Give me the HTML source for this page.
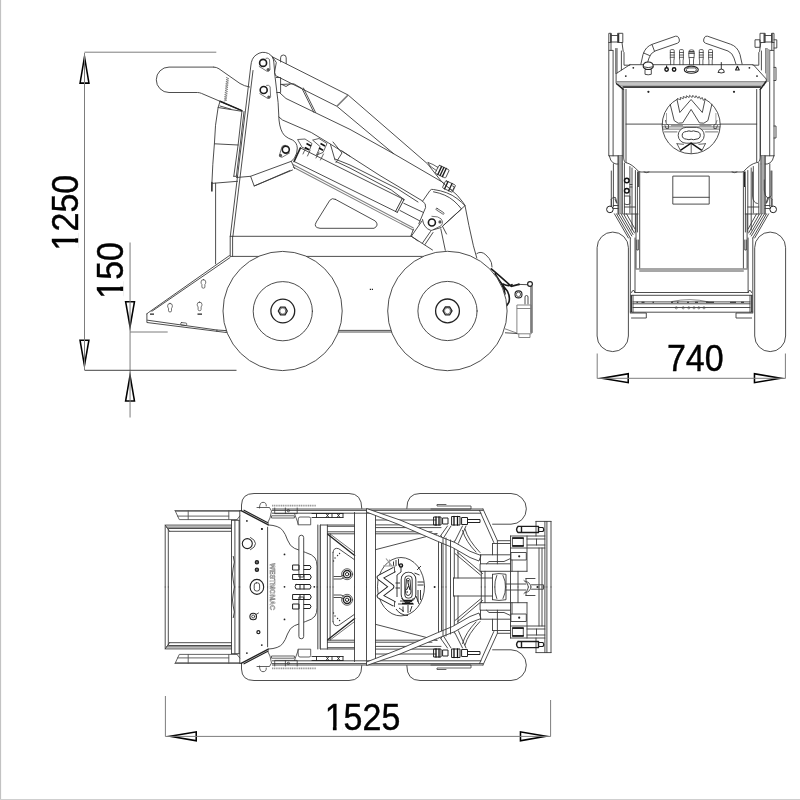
<!DOCTYPE html>
<html><head><meta charset="utf-8">
<style>
html,body{margin:0;padding:0;background:#fff;}
body{width:800px;height:800px;overflow:hidden;font-family:"Liberation Sans",sans-serif;}
svg{display:block}
.l{fill:none;stroke:#3a3a3a;stroke-width:0.9;stroke-linecap:round;stroke-linejoin:round}
.w{fill:#fff;stroke:#3a3a3a;stroke-width:0.9;stroke-linejoin:round}
.d{fill:none;stroke:#7d7d7d;stroke-width:1}
.a{fill:#fff;stroke:#000;stroke-width:1.1;stroke-linejoin:miter}
.t{font-family:"Liberation Sans",sans-serif;font-size:34px;fill:#000;stroke:#000;stroke-width:.4px}
</style></head><body>
<svg width="800" height="800" viewBox="0 0 800 800">
<rect width="800" height="800" fill="#fff"/>
<!--EDGE-->
<line x1="0.500" y1="0" x2="0.500" y2="800" stroke="#c2c2c2" stroke-width="1.200"/><line x1="0" y1="799.500" x2="800" y2="799.500" stroke="#cfcfcf" stroke-width="1"/>
<!--DIMS-->
<g id="dims" style="opacity:.999">
<polygon points="84.50,52.30 89.85,83.90 79.15,83.90" fill="#000"/><polygon points="84.50,61.59 88.02,82.35 80.98,82.35" fill="#fff"/>
<polygon points="84.45,370.00 79.10,339.40 89.80,339.40" fill="#000"/><polygon points="84.45,361.00 80.94,340.95 87.96,340.95" fill="#fff"/>
<polygon points="130.05,331.20 124.70,300.90 135.40,300.90" fill="#000"/><polygon points="130.05,322.29 126.55,302.45 133.55,302.45" fill="#fff"/>
<polygon points="130.05,371.00 135.40,401.80 124.70,401.80" fill="#000"/><polygon points="130.05,380.06 133.56,400.25 126.54,400.25" fill="#fff"/>
<polygon points="597.20,378.20 629.00,372.85 629.00,383.55" fill="#000"/><polygon points="606.54,378.20 627.45,374.68 627.45,381.72" fill="#fff"/>
<polygon points="785.30,378.20 753.70,383.55 753.70,372.85" fill="#000"/><polygon points="776.01,378.20 755.25,381.72 755.25,374.68" fill="#fff"/>
<polygon points="165.40,736.30 197.00,730.95 197.00,741.65" fill="#000"/><polygon points="174.69,736.30 195.45,732.78 195.45,739.82" fill="#fff"/>
<polygon points="550.60,736.30 519.70,741.65 519.70,730.95" fill="#000"/><polygon points="541.51,736.30 521.25,739.81 521.25,732.79" fill="#fff"/>
<path class="d" d="M84.5 52.2H216.3 M84.5 53V370 M130.05 242.5V417.500 M130 332H167.700 M597.2 353.500V378.500 M785.4 353.500V378.500 M597.2 378.300H785.400 M165.4 696V736.500 M550.600 700V736.500 M165.400 736.400H550.600"/>
<path d="M84.5 370.300H236.500" stroke="#444" stroke-width="1" fill="none"/>
<text class="t" transform="translate(77.8,250.4) rotate(-90) scale(1,1.065)">1250</text>
<text class="t" transform="translate(123,298.700) rotate(-90) scale(1,1.065)">150</text>
<text class="t" transform="translate(666.900,371.300) scale(1,1.065)">740</text>
<text class="t" transform="translate(324.700,730) scale(1,1.065)">1525</text>
<g fill="#fff"><rect x="326.2" y="726.5" width="6.700" height="4.500"/><rect x="336.600" y="726.500" width="6.200" height="4.500"/>
<rect x="74.500" y="231.800" width="4.200" height="6.500"/><rect x="74.500" y="242.600" width="4.200" height="5.800"/>
<rect x="119.500" y="280.300" width="4.200" height="6.400"/><rect x="119.500" y="290.900" width="4.200" height="6.300"/></g>
</g>
<!--SIDE-->
<g id="side">
<!-- handle -->
<path class="l" d="M213.8 67.1H169a12.7 12.7 0 0 0 0 25.4H197.5Q199.5 92.5 201.5 93.4L220 101.3L241.9 110.6"/>
<path class="l" d="M213.8 67.1Q216.5 67.1 219 68.8L240 83.5Q244 86 249.5 87"/>
<path class="l" d="M226.3 77.5l2.6 1.08l-2.6 1.08l2.6 1.08l-2.6 1.08l2.6 1.08l-2.6 1.08l2.6 1.08l-2.6 1.08l2.6 1.08l-2.6 1.08l2.6 1.08l-2.6 1.08l2.6 1.08l-2.6 1.08l2.6 1.08l-2.6 1.08l2.6 1.08l-2.6 1.08l2.6 1.08l-2.6 1.08l2.6 1.08l-2.6 1.08" transform="rotate(5.500 227.500 77.500)" style="stroke-width:.6;stroke:#555;stroke-linejoin:miter"/>
<path d="M220 101.300L241.900 110.600" stroke="#1c1c1c" stroke-width="1.500" fill="none" stroke-linecap="round"/>
<!-- control panel side -->
<path class="l" d="M220 101.5L218.1 107.5L241.9 111.3 M218.1 107.5Q214.8 125 214.4 143.8Q212.5 165 211.9 183.4L211.5 190.5 M214.4 143.8L238.1 145 M241.9 111.3L238.1 145L233.8 176.3 M244 111.5L240.2 145L236.4 176 M211.9 183.4L237.5 181.3 M233.8 176.3H237.5 M220 106L231 109.2"/>
<path class="l" d="M211.9 182.5V191" style="stroke-width:1.6"/>
<path class="l" d="M215.6 183.2V263.8"/>
<!-- tower -->
<path class="l" d="M230.3 236.3L250.8 66Q251.5 58 256 55Q262 50.5 268.5 53.5Q273.3 56 273.8 62L275 76.3L278.1 102.5L279 120Q280 130.5 284.5 135.5Q288 138.5 292.5 140Q297 142.5 297.3 148Q297.5 153 294.5 158L291.3 161.3L250.6 176.3"/>
<path class="l" d="M232.9 236.3L253 70.5"/>
<path class="l" d="M236.5 177.5L250.6 176.3L254.2 186L290 170.5 M253.1 185.6"/>
<!-- pivots -->
<g id="piv1"><path class="l" d="M259.2 66.5L267 71.3Q269.5 71.8 270 69.5L269.5 59.5Q268 57.5 266 58.2" style="stroke-width:.7"/><circle class="w" cx="263.1" cy="62.9" r="3.5" style="stroke-width:1.6;stroke:#1c1c1c"/><circle cx="268.2" cy="69.6" r="1.600" fill="#555"/></g>
<g id="piv2"><path class="l" d="M259.8 93.6L267.6 98.4Q270.1 98.9 270.6 96.6L270.1 86.6Q268.6 84.6 266.6 85.3" style="stroke-width:.7"/><circle class="w" cx="263.7" cy="90" r="3.5" style="stroke-width:1.6;stroke:#1c1c1c"/><circle cx="268.8" cy="97" r="1.600" fill="#555"/></g>
<g id="piv3"><path class="l" d="M289.5 153L282 157.3Q279.5 157.3 279.5 155L282 146.5Q283.5 145 285.5 145.3" style="stroke-width:.7"/><circle class="w" cx="285.8" cy="149.6" r="3.5" style="stroke-width:1.6;stroke:#1c1c1c"/><circle cx="280.5" cy="155.4" r="1.600" fill="#555"/></g>
<!-- body -->
<path class="l" d="M230.6 236.3H411.3 M230.2 236.3V256.3 M232.6 236.3V256.3 M230.6 256.4H425"/>
<path class="l" d="M146.9 313.8V322.5L226.3 332.5 M146.9 313.8L148.8 312.3L229.4 255.6 M151.9 311.3L230 257.6 M147.5 320.2L216.9 330L226 330.6 M216.9 330V331.4"/>
<path class="l" d="M226 330.4H392 M226 332H392"/>
<!-- keyholes -->
<g class="l" style="stroke-width:.7"><path id="kh" d="M203.4 279.6a2.4 2.4 0 0 1 2.4 2.4q0 1.6-.9 2.4v2.6q0 1.2-1.5 1.2t-1.5-1.2v-2.6q-.9-.8-.9-2.4a2.4 2.4 0 0 1 2.4-2.4Z"/><use href="#kh" x="-33.4" y="23.8"/><use href="#kh" x="-3.8" y="22.5"/><rect x="180.7" y="322.8" width="6" height="2.4" rx=".8" transform="rotate(7 183.7 324)"/></g>
<path d="M150 314.1h4 M197.5 314.1h4.5" stroke="#222" stroke-width="1.2" fill="none"/>
<!-- arms -->
<path class="l" d="M272.5 56.9L348.1 95L427.5 163.8L441.3 181.3Q446 186 450 188.8Q458 195 463.1 202.5L465 205.6"/>
<path class="l" d="M272.5 56.9L276.3 62.5L274.5 72.5L275.6 75.6L336.9 106.3L393.8 153.8"/>
<path d="M348.1 95L336.9 106.3" stroke="#777" stroke-width="1.6" fill="none"/>
<path class="l" d="M280.6 62V57.8a2.8 2.8 0 0 1 5.6 0V63.5"/>
<path class="l" d="M276.3 77.5H280.6V92.5H276.8 M280.6 84.5L293.8 83.8L302 88.5L313.8 112.3 M303.4 88L315.6 112.5 M282 84.5L286 86.5L290 84"/>
<path class="l" d="M279.4 92.5L286 98.5L350 129.4L393.8 153.8L441 181.3"/>
<path class="l" d="M278.8 116.9L282.5 120L311.3 132.5L328.8 143.1L350 156.3L380 175.6L421.9 200.6Q426.5 203.5 425.6 207.5L418.8 223.8"/>
<!-- hoses / cylinder -->
<path class="l" d="M300.4 147.9L294.1 161.5" style="stroke-width:1.6;stroke:#222"/>
<path class="l" d="M300.4 147.9L404 199.5 M294.1 161.5L397.3 212.3"/>
<path class="l" d="M404 199.5L397.3 212.3 M402.200 198.700L395.500 211.500" style="stroke-width:.9;stroke:#222"/>
<path class="l" d="M403.8 203.3L423.5 212.5 M400 210.5L420 221"/>
<path class="l" d="M335 159L350 165L397.5 188.8L418 202 M341.8 150.8L350 156.3 M336 161.5L350 168.1L391.3 190L404 199.5 M333 142L342 153L336 162.5 M330.5 144.5L335 160"/>
<!-- hose fittings near tower -->
<path class="l" d="M298 139.5L305 139L312 143.5L309.5 150L302.5 147.5Z M313 140L319 138.5L327 143.5L323 152.5L316.5 155L320 147Z M305.5 148.5L303 154 M310 150.5L307.5 156 M319 152L316 158 M323.5 154L320.5 160" style="stroke-width:.8"/>
<path d="M306.5 143.5L311 146 M305 147.5L309 149.7 M320.5 143.5L325 146 M319 148L323 150.2" stroke="#111" stroke-width="1.6" fill="none"/>
<!-- chassis bar -->
<path d="M293 164.600L413.500 228 M293 166.900L413.500 230.300" stroke="#808080" stroke-width="1.100" fill="none"/><path class="l" d="M413.500 229.100L410.900 235.900L418 241"/>
<path class="l" d="M291.3 161.3L294.5 168.5 M254.2 186L292.5 170"/>
<!-- triangle cutout -->
<path class="l" d="M335.3 199.3L375.300 221Q379.500 225.500 374 228.3H320Q313 227.5 316.3 222L329.8 200.3Q332 197.5 335.3 199.3Z"/>
<!-- front plate -->
<path class="l" d="M422.5 201.3L430 190.5Q431.3 188.8 433.5 189.5Q448 191.5 457 198.5Q462 202.5 465 205.6L442.5 226.3 M433.5 191.8Q446 194 454 201Q458.5 205 461.5 209L443.8 225"/>
<path class="l" d="M422.5 219.5Q423.5 228 431 230.5L441.2 227.5"/>
<rect class="l" x="435.300" y="210.400" width="9.400" height="1.700" rx=".85" transform="rotate(33 440 211.250)" style="stroke-width:.7"/>
<g id="piv4"><path class="l" d="M431.9 216.3L437.5 216.9Q442 218.500 442.500 221.300Q442.800 224 441 225.800L433.500 229.500" style="stroke-width:.7"/><circle class="w" cx="431.9" cy="222.5" r="3.5" style="stroke-width:1.6;stroke:#1c1c1c"/><circle cx="440" cy="221.9" r="1.600" fill="#555"/></g>
<path class="l" d="M465 205.6L468.9 225.5L473.4 245.8L476.8 258 M440.8 228.9L445.3 250.3 M442.5 226.3L446.5 234"/>
<path class="l" d="M411.3 236.3L422 221 M411.3 236.3L432.5 250 M422.5 243L430.5 231.5 M425 244.5L433 232.5"/>
<path class="l" d="M476.8 253.6Q481 250.5 485.8 254.8Q490 258.5 491.4 262.6L492 267"/>
<g class="l" style="stroke-width:.8"><path d="M428.100 162.500L430 166L436.300 170.500 M428.100 162.500L433 164.500L438 167.500"/>
<g transform="rotate(25 442 171.500)"><rect x="436.500" y="167" width="11.500" height="9" rx="1"/><path d="M439.500 167V176 M442 167V176 M444.500 167V176" style="stroke:#222;stroke-width:1.400"/></g>
<g transform="rotate(25 449 186.500)"><rect x="443.500" y="182.500" width="11" height="8" rx="1"/><path d="M446 182.500V190.500 M450.500 182.500V190.500" style="stroke:#222;stroke-width:1.300"/><path d="M452 184.500h2v4h-2"/></g>
<path d="M441.300 181.300L444 183.500"/></g>
<!-- quick attach -->
<path d="M491.3 268.8Q500 276 511.3 286.3L518.8 284.4 M495 274Q500 282 507.5 291.3Q510.5 297 508.8 302.5L506.8 305.5 M499.4 281.3Q504.5 287 505 294 M503 284Q509 287 512 284.5" stroke="#1a1a1a" stroke-width="1.6" fill="none" stroke-linecap="round"/>
<path class="l" d="M518.8 284.4L527.5 284.7 M530.9 286.5V332.5 M532.1 286.5V332.5 M525 304V297a1.5 1.5 0 0 1 3 0V304" />
<circle class="w" cx="530" cy="284" r="2.4" style="stroke-width:1.2;stroke:#222"/>
<circle cx="519" cy="284.4" r=".9" fill="#222"/>
<circle class="l" cx="518.5" cy="294.4" r="3.5" style="stroke-width:1.1;stroke:#222"/><circle class="l" cx="518.5" cy="294.4" r="2.2" style="stroke-width:.9;stroke:#555"/>
<path d="M516.9 305H531.3V333.8H516.9Z M516.9 308.5H531.3 M518.8 333.8V337.5H530V333.8 M505 328.8L516.9 333.1" stroke="#777" stroke-width=".9" fill="none"/>
<path class="l" d="M505.4 332.8L516.9 333.5"/>
<path d="M369.800 289.400h1.200 M371.800 289.400h1.200" stroke="#222" stroke-width="1.300" fill="none"/>
<!-- wheels -->
<g id="rw"><circle class="w" cx="282.6" cy="311" r="59.6"/><circle class="l" cx="282.8" cy="311.2" r="29.6"/><circle class="l" cx="282.8" cy="311" r="11.9" style="stroke-width:1.3;stroke:#222"/><path class="l" d="M287.3 311l-2.25 3.9h-4.5l-2.25-3.9l2.25-3.9h4.5Z" style="stroke-width:1.3;stroke:#222"/><circle class="l" cx="282.8" cy="311" r="3" style="stroke-width:.6"/></g>
<g id="fw"><circle class="w" cx="447.4" cy="311" r="59.7"/><circle class="l" cx="447.5" cy="311" r="29.6"/><circle class="l" cx="447.5" cy="310.9" r="11.9" style="stroke-width:1.3;stroke:#222"/><path class="l" d="M452 310.9l-2.25 3.9h-4.5l-2.25-3.9l2.25-3.9h4.5Z" style="stroke-width:1.3;stroke:#222"/><circle class="l" cx="447.5" cy="310.9" r="3" style="stroke-width:.6"/></g>
</g>
<!--FRONT-->
<g id="front">
<!-- tires -->
<rect class="w" x="597.1" y="232.1" width="31.3" height="119.5" rx="15.6" ry="15.6"/>
<rect class="w" x="754.7" y="232.1" width="30.9" height="119.5" rx="15.4" ry="15.6"/>
<!-- arms tops -->
<path class="l" d="M608.8 155.8V33.3H611.2V42.5H608.8 M618 33.3H622.8V42.5H618Z M611.2 35.5H618 M611.2 42H618 M611 42.5V50.4 M609.2 50.4H612.7 M622 42.5L623.2 51.3L624 52.5V65.2H629.8 M613.1 50.4V155.8 M615.8 48.5V73.5 M617 48.5V73 M621.4 51V70 M622.3 89V155.8"/>
<path class="l" d="M 774.0 155.8 V 33.3 H 771.6 V 42.5 H 774.0 M 764.8 33.3 H 760.0 V 42.5 H 764.8 Z M 771.6 35.5 H 764.8 M 771.6 42.0 H 764.8 M 771.8 42.5 V 50.4 M 773.6 50.4 H 770.1 M 760.8 42.5 L 759.6 51.3 L 758.8 52.5 V 65.2 H 753.0 M 769.7 50.4 V 155.8 M 767.0 48.5 V 73.5 M 765.8 48.5 V 73.0 M 761.4 51.0 V 70.0 M 760.5 89.0 V 155.8"/>
<path d="M618.6 33.5V42.3 M610.800 33.500V42.300" stroke="#333" stroke-width="1.300" fill="none"/>
<path d="M 764.2 33.5 V 42.3 M 772.0 33.5 V 42.3" stroke="#333" stroke-width="1.300" fill="none"/>
<path class="l" d="M755.4 39.800H760V47.300H755.400Z M774 39.800H776.800V48H774 M774 67.400H776V80.500H774 M774 126H776V138H774"/>
<path d="M767.700 49V82" stroke="#aaa" stroke-width="3.600" fill="none"/>
<!-- handles -->
<path class="l" d="M640.9 64L643 54.5Q645.5 46.5 652.5 44.2L675.5 36.2Q677.8 35.6 678.8 38L679.4 40Q679.8 42.3 677.5 43.2L655 51Q650.5 53 649 58L647.1 64 M652 44.5L654.5 51.2 M643.6 53L649.5 55.5"/>
<path class="l" d="M742.1 64L740 54.5Q737.5 46.5 730.5 44.2L707.5 36.2Q705.2 35.6 704.2 38L703.6 40Q703.2 42.3 705.5 43.2L728 51Q732.5 53 734 58L735.9 64"/>
<!-- panel -->
<path class="l" d="M629.9 64.7H753.3L766.3 79.1V81.2L760.1 89.4 M629.9 64.7L616.1 73.6V83.3L623.7 89.4 M617 81.9H766 M624 87.2H759.5"/>
<path d="M618 84.4H765" stroke="#c4c4c4" stroke-width="2.6" fill="none"/><path d="M620 85.800H763" stroke="#999" stroke-width="1" fill="none"/>
<path d="M622.5 86.900H761" stroke="#2a2a2a" stroke-width="1.500" fill="none"/>
<path d="M616.3 83.5L623.7 89.6 M766.1 81.5L760.1 89.6" stroke="#222" stroke-width="1.5" fill="none"/>
<!-- estop -->
<path class="w" d="M645 74.3V69.5H651.3V74.3Q648.2 75.3 645 74.3Z"/>
<path class="w" d="M643.2 66.2Q643.2 62 648.2 62T653.2 66.2Q653.2 69 648.2 69.5Q643.2 69 643.2 66.2Z" style="stroke:#222;stroke-width:1.1"/>
<path class="l" d="M643.4 66.8Q648.2 68.6 653 66.8"/>
<!-- toggles -->
<circle cx="666.6" cy="69.5" r="1.7" fill="#fff" stroke="#111" stroke-width="1.4"/><circle cx="674.1" cy="69.5" r="1.7" fill="#fff" stroke="#111" stroke-width="1.4"/>
<path d="M666.6 68V65.5" stroke="#111" stroke-width="1.1"/>
<!-- levers -->
<g class="l" style="stroke-width:.8">
<path id="lv" d="M670.6 64.7V59.5H670.3V50.5Q670.3 49.6 671.3 49.6H673.2Q674.2 49.6 674.2 50.5V59.5H673.9V64.7 M670.3 52.5H674.2 M670.3 55H674.2 M670.3 57.3H674.2"/>
<use href="#lv" x="9.2"/><use href="#lv" x="29" /><use href="#lv" x="38.3"/>
<path d="M689.5 64.7V60L688.8 56V51.5Q688.8 49.8 691.5 49.8T694.2 51.5V56L693.5 60V64.7 M688.8 53.5H694.2 M689.2 57.5L693.8 57.5"/>
</g>
<path d="M689 51.8H694" stroke="#222" stroke-width="1.3"/>
<ellipse class="l" cx="691.3" cy="69.7" rx="7" ry="3.6" style="stroke:#222;stroke-width:1.1"/><rect class="l" x="686.3" y="67.9" width="10" height="3.6" rx="1.6"/>
<path class="l" d="M718.3 72.3Q718.3 69 721.3 69T724.3 72.3Q721.3 73.8 718.3 72.3Z M721.3 69V62.5" style="stroke:#222"/>
<path class="l" d="M735.6 70L737.4 66.3L739.2 70Z" style="stroke:#222;stroke-width:1.2"/>
<g fill="#222"><circle cx="633.3" cy="67.8" r=".9"/><circle cx="625.8" cy="76.1" r=".9"/><circle cx="749.4" cy="67.8" r=".9"/><circle cx="757" cy="76.1" r=".9"/><circle cx="648.4" cy="91.8" r="1.1"/><circle cx="734" cy="91.8" r="1.1"/></g>
<!-- body -->
<path class="l" d="M623.7 89.4V158Q624 162.6 626 162.6 M626 89.4V162.6Q632 164 638.8 171.6L641 172H742L743.6 171.6Q750 164 756.7 162.6V89.4 M760.1 89.4V158Q759.8 162.6 757.4 162.6 M626 124.1H662.5 M720.5 124.1H756.7 M644 172Q646.5 173.5 649 172 M732 172Q734.5 173.5 737 172"/>
<rect class="l" x="673.2" y="176.1" width="36" height="28"/><path class="l" d="M673.2 197.3H709.2"/>
<!-- logo -->
<g id="logo">
<path class="l" d="M704.9 99.0 A29.1 29.1 0 1 1 677.5 99.0"/>
<path class="l" d="M677.4 98.7 L680.6 99.7 L680.3 97.4 L683.3 98.7 L683.3 96.4 L686.2 98.0 L686.4 95.7 L689.1 97.6 L689.6 95.3 L692.1 97.5 L692.8 95.3 L695.0 97.8 L696.0 95.7 L697.9 98.3 L699.1 96.4 L700.7 99.2 L702.1 97.4 L703.4 100.4 L705.0 98.7" style="stroke-width:.8"/>
<path class="l" d="M670.2 104.3 L674.2 120.6 Q678.1 124.6 682.6 122.9 L691.1 109.4 L699.5 122.9 Q704.0 124.6 707.9 120.6 L711.9 104.3 M705.1 99.5 L702.3 112.5 L691.1 99.5 L679.8 112.5 L677.0 99.5"/>
<path class="l" d="M662.3 124.6H720.1 M662.5 126.9H719.9 M663 129.1H719.4 M664.5 131.9H677 M705.5 131.9H717.9" style="stroke-width:.7"/>
<path d="M671 125.8H683 M699.5 125.8H711.5" stroke="#999" stroke-width="1.4" fill="none"/>
<rect class="w" x="678.2" y="127.4" width="26" height="15.8" rx="7.9" style="stroke-width:.9"/>
<path class="w" d="M686.5 131.5Q689 130.3 691.2 131.4Q693.5 130.3 696 131.5Q700.3 131.8 700.3 135.3T696 139.2Q693.5 140.2 691.2 139.2Q689 140.2 686.5 139.2Q682.2 138.8 682.2 135.3T686.5 131.5Z" style="stroke-width:1"/>
<path class="l" d="M677 143.7L680.4 150.4 M705.4 143.7L702 150.4 M677 143.7L683.5 144.3 M705.4 143.7L698.9 144.3 M691.2 143.3V153.3" style="stroke-width:.8"/>
<path d="M680.4 150.4L691.1 143.1L701.8 150.4" stroke="#111" stroke-width="1.3" fill="none" stroke-linejoin="miter"/>
<path class="l" d="M665.5 120.5l1 3.5l2 1v3.5h-2.5l-1-3 M716.9 120.5l-1 3.5l-2 1v3.5h2.500l1-3" style="stroke-width:.8"/>
<path d="M666.5 113V124 M715.9 113V124" stroke="#999" stroke-width=".9" fill="none"/>
</g>
<!-- lower structure -->
<path class="l" d="M609.3 155.8H622.3 M609.3 155.8L610.7 160L613 162.8L616 164H622 M611.3 171V206 M613.4 164V207 M618.2 156V214 M624.4 163V214 M629.9 166.5V213 M632 168V230 M635.4 170.5V232"/>
<path d="M620.3 156V214" stroke="#aaa" stroke-width="3.6" fill="none"/>
<path class="l" d="M618.2 156V214 M622.3 156V214"/>
<path d="M638 171.5V187" stroke="#222" stroke-width="1.600" fill="none"/><path class="l" d="M637.400 187V232"/>
<circle cx="626.8" cy="180.5" r="2.3" fill="#fff" stroke="#111" stroke-width="1.5"/><circle cx="626.8" cy="190.8" r="2.3" fill="#fff" stroke="#111" stroke-width="1.5"/>
<path class="l" d="M624.4 196H629.9V204Q627 205.5 624.4 204 M629.9 184.5H632 M629.9 187H632 M624.4 207H635.4 M624.4 214H638"/>
<circle class="w" cx="609.9" cy="209.4" r="3.3" style="stroke:#222;stroke-width:1"/>
<path class="l" d="M611 199.5Q613 196 615.5 197.5L617 203 M611.3 200V206 M613.2 208.5H618.2 M613.2 205.5H618.2 M615 199L616.5 203"/>
<path class="l" d="M773.9 155.8H760.8 M773.9 155.8L772.5 160L770.2 162.800L767.2 164H761.2 M771.9 171V206 M769.8 164V207 M765 156V214 M758.800 163V214 M753.3 166.5V213 M751.2 168V230 M747.8 170.5V232"/>
<path d="M762.900 156V214" stroke="#aaa" stroke-width="3.6" fill="none"/>
<path class="l" d="M765 156V214 M760.900 156V214"/>
<path d="M744.800 171.500V187" stroke="#222" stroke-width="1.600" fill="none"/><path class="l" d="M745.400 187V232"/>
<path class="l" d="M752.600 172V196Q753 203 757.4 203.500 M764.3 180V190Q764.3 196 768 198.500L771 196V171"/>
<circle class="w" cx="773.2" cy="209.4" r="3.3" style="stroke:#222;stroke-width:1"/>
<path class="l" d="M772.2 199.5Q770.2 196 767.7 197.5L766.2 203 M771.9 200V206 M770 208.5H765 M770 205.5H765 M768.2 199L766.7 203"/>
<path class="l" d="M758.800 207H747.8 M758.800 214H745.2"/>
<!-- diagonals to frame -->
<path class="l" d="M614.4 213.8L628.4 238 M616.500 213.8L630.300 238 M618.6 213.8L631.800 236 M621 213.800L633 234.500 M623.5 213.8L634.500 233 M626.500 213.800L635 229"/>
<path class="l" d="M768.7 213.8L754.700 238 M766.600 213.8L752.800 238 M764.500 213.8L751.300 236 M762.100 213.800L750.100 234.500 M759.600 213.800L748.600 233 M756.600 213.800L748.100 229"/>
<path class="l" d="M630.3 238V312 M635 238V292.500 M636 214V268 M639.700 172V268 M636.800 240V250H638.300V240"/>
<path class="l" d="M752.800 238V312 M748.100 238V292.500 M747.100 214V268 M743.400 172V268 M746.300 240V250H744.800V240"/>
<path class="l" d="M636 269H747.100 M639.700 271H743.400 M635 292.500H748.100 M631 295.300H752 M633 301.900H750 M633 303.800H750 M633 307.500H750 M630.300 312.200H752.800 M633 295.300V312.200 M750 295.300V312.200 M630.300 313H646.300V318H631.500 M752.800 313H736V318H751.600"/>
<path class="l" d="M631.500 292.500Q632 290 634 290.500L635 292.500 M751.600 292.500Q751.100 290 749.100 290.500L748.100 292.500"/>
<path d="M631.300 295.300V312 M751.800 295.300V312" stroke="#222" stroke-width="1.2" fill="none"/>
<g fill="none" stroke="#444" stroke-width=".6"><circle cx="676.3" cy="307.800" r="1.1"/><circle cx="683.200" cy="307.800" r="1.100"/><circle cx="688.800" cy="307.800" r="1.100"/><circle cx="694" cy="307.800" r="1.100"/><circle cx="698.800" cy="307.800" r="1.100"/><circle cx="704" cy="307.800" r="1.100"/></g>
<path d="M636.500 302.300h1.500 M641.500 302.300h3 M652.500 302.300h1.500 M671 302.300h2 M677 302.300h1.500 M687 302.300h2 M695 302.300h3 M706 302.300h8 M730 302.300h6 M741 302.300h3" stroke="#222" stroke-width="1.100" fill="none"/>
<path class="l" d="M672 301.500Q690 297.500 708 301.800" style="stroke-width:.6"/>
</g>
<!--TOP-->
<g id="top">
<path class="l" d="M241.5 510.6V505Q241.8 493.5 254 493.5H349Q361.8 493.5 361.8 508.4"/>
<path class="l" d="M 241.5 663.4 V 669.0 Q 241.8 680.5 254.0 680.5 H 349.0 Q 361.8 680.5 361.8 665.6"/>
<path class="l" d="M406.8 508.4Q406.8 493.5 420 493.5H511A15.35 15.35 0 0 1 511 524.2H492.6"/>
<path class="l" d="M 406.8 665.6 Q 406.8 680.5 420.0 680.5 H 511.0 A 15.3 15.3 -0 0 0 511.0 649.8 H 492.6"/>
<path class="l" style="stroke:#555" d="M175.1 510.6H241.1 M175.1 510.6L179.3 519.6H237 M177.5 516.1H228.8 M188.2 510.6V519.6 M228.8 510.6V519.6 M237 519.6L239.8 516"/>
<path class="l" style="stroke:#555" d="M 175.1 663.4 H 241.1 M 175.1 663.4 L 179.3 654.4 H 237.0 M 177.5 657.9 H 228.8 M 188.2 663.4 V 654.4 M 228.8 663.4 V 654.4 M 237.0 654.4 L 239.8 658.0"/>
<path class="l" style="stroke:#555;stroke-width:.9" d="M176 511.200H240"/>
<path class="l" style="stroke:#555;stroke-width:.9" d="M 176.0 662.8 H 240.0"/>
<path class="l" d="M231.5 525.1H165.2V587 M231.5 527.1H166.5 M231.5 528.5H168.3V587 M231.5 531.3H169.5 M165.2 525.1L169.5 531.3"/>
<path class="l" d="M 231.5 648.9 H 165.2 V 587.0 M 231.5 646.9 H 166.5 M 231.5 645.5 H 168.3 V 587.0 M 231.5 642.7 H 169.5 M 165.2 648.9 L 169.5 642.7"/>
<path class="l" d="M231.5 520.3V587 M234.9 520.3V587 M239.1 520.3V587 M231.5 520.3H239.1"/>
<path class="l" d="M 231.5 653.7 V 587.0 M 234.9 653.7 V 587.0 M 239.1 653.7 V 587.0 M 231.5 653.7 H 239.1"/>
<path class="l" d="M239.8 510.6V587 M267.6 527.2V587"/>
<path class="l" d="M 239.8 663.4 V 587.0 M 267.6 646.8 V 587.0"/>
<path class="l" style="stroke:#222;stroke-width:1.2" d="M241.1 510.6L268.3 524.9 M244 510.2L268.3 523"/>
<path class="l" style="stroke:#222;stroke-width:1.2" d="M 241.1 663.4 L 268.3 649.1 M 244.0 663.8 L 268.3 651.0"/>
<path class="l" d="M268.3 524.9Q279 525.5 282.7 530.4Q285.5 534 287.5 540Q290 546.5 294.4 548.3Q300 550.5 305.4 552.4Q312.5 554.5 315 557.9Q317 561 317 566.1V587"/>
<path class="l" d="M 268.3 649.1 Q 279.0 648.5 282.7 643.6 Q 285.5 640.0 287.5 634.0 Q 290.0 627.5 294.4 625.7 Q 300.0 623.5 305.4 621.6 Q 312.5 619.5 315.0 616.1 Q 317.0 613.0 317.0 607.9 V 587.0"/>
<path class="l" d="M272.4 509H483 M272.4 510.4H483 M272.4 513.2H481"/>
<path class="l" d="M 272.4 665.0 H 483.0 M 272.4 663.6 H 483.0 M 272.4 660.8 H 481.0"/>
<path style="fill:none;stroke:#999;stroke-width:1.800;stroke-dasharray:1.200 .6" d="M272 505.700H316"/>
<path style="fill:none;stroke:#999;stroke-width:1.800;stroke-dasharray:1.200 .6" d="M 272.0 668.3 H 316.0"/>
<path class="l" d="M483 509L497.4 540.7H510.5 M479.5 510.4L493.8 542.5 M497.4 540.7V563.8"/>
<path class="l" d="M 483.0 665.0 L 497.4 633.3 H 510.5 M 479.5 663.6 L 493.8 631.5 M 497.4 633.3 V 610.2"/>
<path class="l" style="stroke-width:.8" d="M259.500 508Q259.500 502.300 263 502.300T266.300 506 M257 507.500H269.500L271.500 511L270 518L268 522 M274.700 508V513.600H297.200V508 M285.400 508V513.600 M271.900 515.800H294.400V518H271.900Z M294.500 513.600L298.300 524 M298.300 518.500Q298.300 517 300 517H309Q310.700 517 310.700 518.500V524.800H298.300Z"/>
<path class="l" style="stroke-width:.8" d="M 259.5 666.0 Q 259.5 671.7 263.0 671.7 T 266.3 668.0 M 257.0 666.5 H 269.5 L 271.5 663.0 L 270.0 656.0 L 268.0 652.0 M 274.7 666.0 V 660.4 H 297.2 V 666.0 M 285.4 666.0 V 660.4 M 271.9 658.2 H 294.4 V 656.0 H 271.9 Z M 294.5 660.4 L 298.3 650.0 M 298.3 655.5 Q 298.3 657.0 300.0 657.0 H 309.0 Q 310.7 657.0 310.7 655.5 V 649.2 H 298.3 Z"/>
<path class="l" style="stroke:#222;stroke-width:.9" d="M312 513.5H343 M312 517.5H343 M343 513.5V517.5 M316.5 513.500V517.5 M326 513.500L329 517.5 M329 513.5L326 517.5 M340 513.500L337 517.5 M337 513.500L340 517.5 M332 513.5V517.5"/>
<path class="l" style="stroke:#222;stroke-width:.9" d="M 312.0 660.5 H 343.0 M 312.0 656.5 H 343.0 M 343.0 660.5 V 656.5 M 316.5 660.5 V 656.5 M 326.0 660.5 L 329.0 656.5 M 329.0 660.5 L 326.0 656.5 M 340.0 660.5 L 337.0 656.5 M 337.0 660.5 L 340.0 656.5 M 332.0 660.5 V 656.5"/>
<path class="l" d="M317.8 525V587 M320.5 525V587 M327.4 525V587 M330.1 533.8V587 M320.5 525H354.5 M327.4 526.3H354.5 M327.4 531.8H354.5 M327.4 533.8H354.5"/>
<path class="l" d="M 317.8 649.0 V 587.0 M 320.5 649.0 V 587.0 M 327.4 649.0 V 587.0 M 330.1 640.2 V 587.0 M 320.5 649.0 H 354.5 M 327.4 647.7 H 354.5 M 327.4 642.2 H 354.5 M 327.4 640.2 H 354.5"/>
<path style="fill:none;stroke:#bbb;stroke-width:2" d="M319.1 525V587"/>
<path style="fill:none;stroke:#bbb;stroke-width:2" d="M 319.1 649.0 V 587.0"/>
<path class="l" style="stroke:#222;stroke-width:1.300" d="M327.700 534.300L354.700 555.400"/>
<path class="l" style="stroke:#222;stroke-width:1.300" d="M 327.7 639.7 L 354.7 618.6"/>
<path class="l" style="stroke-width:.7" d="M330.500 534.300L354.700 552.500"/>
<path class="l" style="stroke-width:.7" d="M 330.5 639.7 L 354.7 621.5"/>
<path class="l" d="M333 552.500Q333.500 547 338.700 548.700L354.500 559.700 M333 552.500V587"/>
<path class="l" d="M 333.0 621.5 Q 333.5 627.0 338.7 625.3 L 354.5 614.3 M 333.0 621.5 V 587.0"/>
<path class="l" d="M354.5 512.5V587 M366.5 512.5V587 M375.5 513.2V587"/>
<path class="l" d="M 354.5 661.5 V 587.0 M 366.5 661.5 V 587.0 M 375.5 660.8 V 587.0"/>
<path class="l" d="M375.5 520H436 M375.5 524.9H437 M375.5 527.6H441 M375.5 531.8H432 M375.5 533.8H437"/>
<path class="l" d="M 375.5 654.0 H 436.0 M 375.5 649.1 H 437.0 M 375.5 646.4 H 441.0 M 375.5 642.2 H 432.0 M 375.5 640.2 H 437.0"/>
<path class="l" d="M375.8 549.6L437 533.8"/>
<path class="l" d="M 375.8 624.4 L 437.0 640.2"/>
<path class="l" d="M438.5 536V587 M441.5 536V587 M454.300 541V578 M458 544V578"/>
<path class="l" d="M 438.5 638.0 V 587.0 M 441.5 638.0 V 587.0 M 454.3 633.0 V 596.0 M 458.0 630.0 V 596.0"/>
<path class="l" style="stroke:#222;stroke-width:1" d="M434 517H441V525H434Z M443 518H448V524H443Z M452 516.5H460V525H452Z M462 517.5H467.5V524.500H462Z M467.5 519.5H480V522.500H467.500"/>
<path class="l" style="stroke:#222;stroke-width:1" d="M 434.0 657.0 H 441.0 V 649.0 H 434.0 Z M 443.0 656.0 H 448.0 V 650.0 H 443.0 Z M 452.0 657.5 H 460.0 V 649.0 H 452.0 Z M 462.0 656.5 H 467.5 V 649.5 H 462.0 Z M 467.5 654.5 H 480.0 V 651.5 H 467.5"/>
<path class="l" style="stroke:#111;stroke-width:1.3" d="M436 517V525 M439 517V525 M454 516.5V525 M457.5 516.5V525"/>
<path class="l" style="stroke:#111;stroke-width:1.3" d="M 436.0 657.0 V 649.0 M 439.0 657.0 V 649.0 M 454.0 657.5 V 649.0 M 457.5 657.5 V 649.0"/>
<path class="l" style="stroke-width:.8" d="M431 509H471V506H437V504.5H446"/>
<path class="l" style="stroke-width:.8" d="M 431.0 665.0 H 471.0 V 668.0 H 437.0 V 669.5 H 446.0"/>
<path class="l" d="M447.500 526L440 536.500 M451 526L443.500 538 M462.500 526L455 541 M466 526L458.500 543 M465 529Q468 540 480 552.500 M462.500 530.500Q466 542 476 552"/>
<path class="l" d="M 447.5 648.0 L 440.0 637.5 M 451.0 648.0 L 443.5 636.0 M 462.5 648.0 L 455.0 633.0 M 466.0 648.0 L 458.5 631.0 M 465.0 645.0 Q 468.0 634.0 480.0 621.5 M 462.5 643.5 Q 466.0 632.0 476.0 622.0"/>
<path class="w" d="M366.5 508.500L400 520L437.500 535.600L455 542.500L470 551.300L481 555.500L479 561L470 557.500L452.500 547.500L437.500 541.300L400 525L366.500 512Z"/>
<path class="w" d="M 366.5 665.5 L 400.0 654.0 L 437.5 638.4 L 455.0 631.5 L 470.0 622.7 L 481.0 618.5 L 479.0 613.0 L 470.0 616.5 L 452.5 626.5 L 437.5 632.7 L 400.0 649.0 L 366.5 662.0 Z"/>
<path class="l" d="M510.5 536H544.9 M510.500 548H544.900 M510.500 536V548 M527 536V571.300 M512.8 537.5H523.3V546.5H512.8Z M527 539H544.9 M527 545H544.9 M536.500 539V545"/>
<path class="l" d="M 510.5 638.0 H 544.9 M 510.5 626.0 H 544.9 M 510.5 638.0 V 626.0 M 527.0 638.0 V 602.7 M 512.8 636.5 H 523.3 V 627.5 H 512.8 Z M 527.0 635.0 H 544.9 M 527.0 629.0 H 544.9 M 536.5 635.0 V 629.0"/>
<path class="l" style="stroke:#222;stroke-width:1.500" d="M512.8 538.3H523.300 M512.800 545.800H523.300"/>
<path class="l" style="stroke:#222;stroke-width:1.500" d="M 512.8 635.7 H 523.3 M 512.8 628.2 H 523.3"/>
<path class="l" d="M536 521.4V536"/>
<path class="l" d="M 536.0 652.6 V 638.0"/>
<path class="l" style="stroke:#1c1c1c;stroke-width:1.400" d="M518 526.400H538.500 M518 532.500H538.500 M518 526.400Q515.200 529.400 518 532.500 M521.500 526.400V532.500 M538.500 526.400V532.500"/>
<path class="l" style="stroke:#1c1c1c;stroke-width:1.400" d="M 518.0 647.6 H 538.5 M 518.0 641.5 H 538.5 M 518.0 647.6 Q 515.2 644.6 518.0 641.5 M 521.5 647.6 V 641.5 M 538.5 647.6 V 641.5"/>
<path class="l" style="stroke:#1c1c1c;stroke-width:1.200" d="M538.500 527.500H543Q544.500 529.500 543 531.500H538.500"/>
<path class="l" style="stroke:#1c1c1c;stroke-width:1.200" d="M 538.5 646.5 H 543.0 Q 544.5 644.5 543.0 642.5 H 538.5"/>
<path class="l" d="M536 521.4H551 M544.9 521.4V587 M546.9 521.4V587 M551 521.4V587 M539 548V587 M542 548V587"/>
<path class="l" d="M 536.0 652.6 H 551.0 M 544.9 652.6 V 587.0 M 546.9 652.6 V 587.0 M 551.0 652.6 V 587.0 M 539.0 626.0 V 587.0 M 542.0 626.0 V 587.0"/>
<path class="l" d="M511.3 552.5H526.3V560H511.3Z M492.500 543.500H510.500 M492.500 543.500V554.800 M480.500 554.800H510.500 M480.500 554.800V563.800 M480.5 563.800H510.500V571.300H480.500Z M486.500 563.800L489 561.500H504L510.500 558.500 M510.500 548V563.800 M512 560V571.300 M510.500 571.300H527 M481.300 571.300V587 M485 571.300V587 M510.500 571.300V587 M518 571.300V587"/>
<path class="l" d="M 511.3 621.5 H 526.3 V 614.0 H 511.3 Z M 492.5 630.5 H 510.5 M 492.5 630.5 V 619.2 M 480.5 619.2 H 510.5 M 480.5 619.2 V 610.2 M 480.5 610.2 H 510.5 V 602.7 H 480.5 Z M 486.5 610.2 L 489.0 612.5 H 504.0 L 510.5 615.5 M 510.5 626.0 V 610.2 M 512.0 614.0 V 602.7 M 510.5 602.7 H 527.0 M 481.3 602.7 V 587.0 M 485.0 602.7 V 587.0 M 510.5 602.7 V 587.0 M 518.0 602.7 V 587.0"/>
<path class="l" d="M455 553.500L480.500 575 M457.500 552.300L482.500 573.500"/>
<path class="l" d="M 455.0 620.5 L 480.5 599.0 M 457.5 621.7 L 482.5 600.5"/>
<path class="l" d="M443 538V587 M446 538V587 M450.500 540V587"/>
<path class="l" d="M 443.0 636.0 V 587.0 M 446.0 636.0 V 587.0 M 450.5 634.0 V 587.0"/>
<path class="l" d="M453.5 578H492.5V574.300 M492.500 574.300Q499 572.800 506 574.300V587 M492.500 578V587 M496.800 575.500Q494.500 581 494.800 587 M503 575.500Q505.800 581 505.500 587 M506 584H526 M526 581.500Q530.500 582.500 531 587 M524 580.500Q528.500 583 528.500 587 M531.500 584.800H543.500V587 M526 578.500V581.500 M526 578.500H535"/>
<path class="l" d="M 453.5 596.0 H 492.5 V 599.7 M 492.5 599.7 Q 499.0 601.2 506.0 599.7 V 587.0 M 492.5 596.0 V 587.0 M 496.8 598.5 Q 494.5 593.0 494.8 587.0 M 503.0 598.5 Q 505.8 593.0 505.5 587.0 M 506.0 590.0 H 526.0 M 526.0 592.5 Q 530.5 591.5 531.0 587.0 M 524.0 593.5 Q 528.5 591.0 528.5 587.0 M 531.5 589.2 H 543.5 V 587.0 M 526.0 595.5 V 592.5 M 526.0 595.5 H 535.0"/>
<!-- panel items -->
<circle class="l" cx="247.3" cy="543.6" r="5" style="stroke:#222;stroke-width:1.1"/><path class="l" d="M250.500 537.5Q255.5 540 255.5 543.600T250.500 549.700"/>
<circle cx="256.9" cy="562.2" r="1.600" fill="#777" stroke="#222" stroke-width="1.300"/><circle cx="256.900" cy="569.8" r="1.600" fill="#777" stroke="#222" stroke-width="1.300"/>
<ellipse class="l" cx="256.9" cy="586.9" rx="6.8" ry="7.5" style="stroke:#222;stroke-width:1.1"/><rect class="l" x="254.2" y="582.8" width="5.4" height="8.200" rx="2.200"/>
<circle class="l" cx="253.2" cy="616.5" r="3.3" style="stroke:#222;stroke-width:1.100"/><circle class="l" cx="253.200" cy="616.500" r="1.500"/><path class="l" d="M256 614.500L258.500 613"/>
<circle cx="258.400" cy="632.200" r="1.500" fill="#fff" stroke="#222" stroke-width="1.300"/>
<g fill="#222"><circle cx="246.900" cy="520.900" r=".9"/><circle cx="261.800" cy="528.900" r=".9"/><circle cx="246.900" cy="653.100" r=".9"/><circle cx="261.800" cy="645.100" r=".9"/><circle cx="262" cy="529" r=".9"/><circle cx="284.500" cy="554.400" r=".9"/><circle cx="284.500" cy="586.800" r=".9"/><circle cx="284.500" cy="619.400" r=".9"/><circle cx="314.300" cy="586.800" r=".9"/><circle cx="434.600" cy="586.900" r="1"/><circle cx="519.200" cy="556.300" r="1.100"/><circle cx="519.200" cy="617.700" r="1.100"/><circle cx="537.500" cy="587" r="1.100"/></g>
<text transform="translate(270.400,563.300) rotate(90)" style="font-family:'Liberation Sans',sans-serif;font-size:7.600px;font-weight:bold;fill:#fff;stroke:#666;stroke-width:.45" textLength="47" lengthAdjust="spacingAndGlyphs">WESTMOMAC</text>
<path d="M233.200 556Q235.500 562 233.200 568Q231.800 574 233.200 580Q235.500 587 233.200 594Q231.800 600 233.200 606Q235.500 612 233.200 618" fill="none" stroke="#333" stroke-width=".9"/>
<circle class="l" cx="288.400" cy="510.600" r="1.200" style="stroke-width:.8"/><circle class="l" cx="288.400" cy="663.400" r="1.200" style="stroke-width:.8"/>
<!-- joysticks -->
<path class="w" d="M298.900 577V537.600a2.400 2.400 0 0 1 4.800 0V577Z"/>
<path class="w" d="M298.900 597V636.400a2.400 2.400 0 0 0 4.800 0V597Z"/>
<g class="l" style="stroke:#222;stroke-width:1">
<path d="M293 565H299V570H293Z M304 565.500H310Q312 567.500 310 569.500H304 M293 574.500H310Q312.500 577 310 579.500H293Z M300 574.500V579.500 M304 574.500V579.500"/>
<path d="M296 584.500H310Q312 586.800 310 589H296Q294 586.800 296 584.500Z M300 584.500V589 M304 584.500V589"/>
<path d="M293 594.500H310Q312.500 597 310 599.500H293Z M300 594.500V599.500 M304 594.500V599.500 M293 604H299V609H293Z M304 604.500H310Q312 606.500 310 608.500H304"/>
</g>
<!-- ports -->
<circle class="l" cx="347.100" cy="574.200" r="5.500" style="stroke-width:.8"/><circle class="l" cx="347.100" cy="574.200" r="3.700" style="stroke:#222;stroke-width:1.400"/><circle class="l" cx="347.100" cy="574.200" r="1.700" style="stroke:#222;stroke-width:1"/>
<circle class="l" cx="347.100" cy="599.800" r="5.500" style="stroke-width:.8"/><circle class="l" cx="347.100" cy="599.800" r="3.700" style="stroke:#222;stroke-width:1.400"/><circle class="l" cx="347.100" cy="599.800" r="1.700" style="stroke:#222;stroke-width:1"/>
<path class="l" d="M334 576.500H341L343 575 M334 579H341L343.500 578 M334 597.500H341L343 599 M334 595H341L343.500 596"/>
<path d="M333.500 561l.1 0 M335 558l.1 0 M337.500 555.500l.1 0 M339.500 553.500l.1 0 M333.500 613l.1 0 M335 616l.1 0 M337.500 618.500l.1 0 M339.500 620.500l.1 0" stroke="#333" stroke-width="1.300" stroke-linecap="round"/>
<!-- top logo -->
<g id="tlogo">
<clipPath id="ecl"><rect x="375.600" y="550" width="60" height="74"/></clipPath>
<ellipse class="l" cx="401" cy="586.700" rx="23.500" ry="29.200" clip-path="url(#ecl)"/>
<path d="M394.500 569.500L379.500 577.500L391.500 586.700L379.500 596L394.500 604" fill="none" stroke="#222" stroke-width="5.600" stroke-linejoin="round" stroke-linecap="butt"/>
<path d="M394.500 569.500L379.500 577.500L391.500 586.700L379.500 596L394.500 604" fill="none" stroke="#fff" stroke-width="3.800" stroke-linejoin="round" stroke-linecap="butt"/>
<path d="M394.500 566.500V572.500 M394.500 601V607" stroke="#333" stroke-width=".8"/>
<rect x="403" y="574" width="11" height="26" rx="5.500" fill="none" stroke="#222" stroke-width="4.600"/>
<rect x="403" y="574" width="11" height="26" rx="5.500" fill="none" stroke="#fff" stroke-width="2.800"/>
<path d="M406.500 579Q408.500 577.500 410 579.500L411 592Q410.500 595.500 408 595.500T405.500 592Z" fill="none" stroke="#222" stroke-width=".9"/>
<path d="M408 580V583L410 590 M406.500 590L408.500 586" fill="none" stroke="#111" stroke-width="1"/>
<circle cx="408.300" cy="580.800" r=".8" fill="#222"/><circle cx="407.200" cy="592" r=".8" fill="#222"/>
<path d="M396 560V566 M398.500 559V565.500 M393.500 561.500V566 M401 565.500V572L397 575 M397 575V597 M395.500 583H400 M395.500 588H400 M417 570L421 566 M414.500 573L419.500 575 M417.500 582H424 M417.500 585H423.500 M418 590V602 M420.500 590V600 M416 596L419 604 M398 604H414 M400 601H412 M399 608L404 611.500 M403 606.500V612 M408 605V613 M412 606L410 612 M396 609Q400 615 408 615.500 M401.500 598L405 602.500L410 602.500L413.500 598" fill="none" stroke="#222" stroke-width=".9"/>
<path d="M404 600.500H412 M402 603.500H413" stroke="#111" stroke-width="1.500"/>
<path d="M386 558.500L392 566 M389.500 559.500V566 M383 566H396" stroke="#999" stroke-width="1.200" fill="none"/>
</g>
<!-- cylinder body -->
<path class="l" d="M453.500 578V596"/>
<circle class="l" cx="401" cy="565.500" r="1.600" style="stroke:#111;stroke-width:1.300"/>

</g>
</svg>
</body></html>
